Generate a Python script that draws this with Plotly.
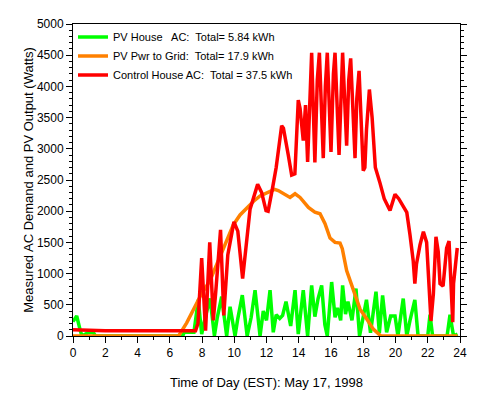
import plotly.graph_objects as go

# ---- data (hours, watts) ----
red_t = [0, 1.2, 2.0, 7.6, 7.75, 7.98, 8.22, 8.48, 8.7, 8.85, 9.0, 9.15, 9.35, 9.6, 9.98,
         10.22, 10.52, 10.75, 10.98, 11.45, 11.7, 11.97, 12.1, 12.36, 12.6, 12.94, 13.05,
         13.35, 13.56, 13.76, 13.97, 14.08, 14.28, 14.42, 14.55, 14.8, 15.0, 15.15, 15.28,
         15.52, 15.65, 15.77, 16.0, 16.15, 16.25, 16.5, 16.62, 16.72, 16.97, 17.1, 17.22,
         17.49, 17.6, 17.74, 18.0, 18.1, 18.2, 18.38, 18.55, 18.75, 19.04, 19.3, 19.66,
         19.97, 20.2, 20.5, 20.7, 20.9, 21.1, 21.2, 21.3, 21.52, 21.73, 21.93, 22.1, 22.2,
         22.35, 22.51, 22.65, 22.76, 22.95, 23.17, 23.32, 23.4, 23.55, 23.6, 23.75, 23.83]
red_w = [100, 95, 85, 85, 200, 1250, 85, 1500, 250, 700, 1200, 1700, 330, 1300, 1830,
         1680, 920, 1500, 2030, 2430, 2300, 2010, 2000, 2350, 2700, 3370, 3330,
         2900, 2580, 2600, 3780, 3650, 3130, 3700, 2790, 4540, 2780, 4100, 4540,
         2850, 4000, 4540, 2950, 4200, 4540, 2900, 4000, 4540, 3050, 4100, 4450,
         2850, 3800, 4250, 2650, 2700, 3300, 3950, 3500, 2700, 2450, 2200, 2010,
         2270, 2200, 2050, 1980, 1620, 1200, 840, 1150, 1460, 1670, 1500, 730, 240,
         680, 1590, 1350, 840, 800, 1410, 1520, 1000, 220, 840, 1255, 1410]

orange_t = [0, 6.55, 7.05, 7.57, 7.98, 8.5, 8.91, 9.22, 9.53, 9.94, 10.36, 10.77, 11.2,
            11.6, 12.22, 12.5, 12.73, 13.15, 13.46, 13.77, 14.08, 14.6, 15.0, 15.32,
            15.63, 15.94, 16.25, 16.56, 16.7, 16.97, 17.38, 17.8, 18.2, 18.62, 19.1, 23.85]
orange_w = [0, 0, 210, 470, 680, 890, 1150, 1310, 1540, 1780, 1940, 2050, 2160,
            2245, 2320, 2350, 2330, 2270, 2220, 2280, 2220, 2060, 1985, 1960,
            1800, 1570, 1500, 1490, 1400, 1050, 735, 430, 280, 110, 0, 0]

green_t = [0, 0.23, 0.43, 0.55, 0.9, 1.25, 1.4, 6.8, 6.9, 7.5, 7.77, 7.98, 8.2, 8.5, 8.77,
           8.95, 9.22, 9.53, 9.74, 10.05, 10.2, 10.5, 10.8, 11.05, 11.29, 11.6, 11.8, 12.0,
           12.22, 12.42, 12.6, 12.82, 13.0, 13.21, 13.5, 13.77, 13.97, 14.28, 14.55, 14.8,
           15.0, 15.2, 15.42, 15.62, 15.77, 16.04, 16.25, 16.4, 16.6, 16.72, 16.9, 17.05,
           17.3, 17.55, 17.77, 18.0, 18.2, 18.45, 18.79, 19.0, 19.2, 19.45, 19.7, 19.97,
           20.15, 20.48, 20.7, 20.9, 21.2, 21.4, 22.0, 22.14, 22.3, 23.2, 23.38, 23.5,
           23.6, 23.85]
green_w = [230, 320, 110, 0, 50, 60, 0, 0, 60, 60, 580, 30, 300, 600, 5,
           300, 630, 0, 470, 0, 250, 655, 0, 300, 735, 0, 400, 250,
           735, 60, 340, 280, 330, 550, 160, 735, 30, 735, 0, 810,
           310, 600, 810, 180, 0, 865, 300, 450, 250, 810, 350, 550,
           250, 760, 0, 350, 580, 50, 710, 50, 650, 60, 320, 320,
           0, 600, 0, 250, 580, 0, 0, 340, 0, 0, 340, 150,
           0, 30]

names = ["PV House\u00a0\u00a0 AC:\u00a0 Total= 5.84 kWh",
         "PV Pwr to Grid:\u00a0 Total= 17.9 kWh",
         "Control House AC:\u00a0 Total = 37.5 kWh"]
colors = ["#00FF00", "#FF8000", "#FF0000"]

x_ticks = list(range(0, 25, 2))
y_ticks = list(range(0, 5001, 500))

fig = go.Figure()
for t, w, n, c in [(green_t, green_w, names[0], colors[0]),
                   (orange_t, orange_w, names[1], colors[1]),
                   (red_t, red_w, names[2], colors[2])]:
    fig.add_trace(go.Scatter(x=t, y=w, mode="lines", name=n,
                             line=dict(color=c, width=3.5)))

FAM = "Arial, Liberation Sans, sans-serif"

fig.update_layout(
    width=481, height=389,
    margin=dict(l=65, r=29, t=9, b=60),
    paper_bgcolor="white", plot_bgcolor="white",
    font=dict(family=FAM, size=12, color="black"),
    showlegend=True,
    legend=dict(x=0.0, y=1.005, xanchor="left", yanchor="top",
                bgcolor="rgba(0,0,0,0)", borderwidth=0,
                font=dict(family=FAM, size=11, color="black")),
    xaxis=dict(range=[0, 24], tickvals=x_ticks, ticktext=[str(v) for v in x_ticks],
               showgrid=False, zeroline=False, showline=True, linecolor="black",
               linewidth=1, mirror=True, ticks="outside", ticklen=6, tickcolor="black",
               minor=dict(dtick=1, ticks="outside", ticklen=3, tickcolor="black", showgrid=False),
               title=dict(text="Time of Day (EST): May 17, 1998", font=dict(size=13), standoff=18)),
    yaxis=dict(range=[0, 5000], tickvals=y_ticks, ticktext=[str(v) for v in y_ticks],
               showgrid=False, zeroline=False, showline=True, linecolor="black",
               linewidth=1, mirror="ticks", ticks="outside", ticklen=6, tickcolor="black",
               minor=dict(dtick=100, ticks="outside", ticklen=3, tickcolor="black", showgrid=False),
               title=dict(text="Measured AC Demand and PV Output (Watts)", font=dict(size=13), standoff=0)),
)

fig.write_html("out.html")
